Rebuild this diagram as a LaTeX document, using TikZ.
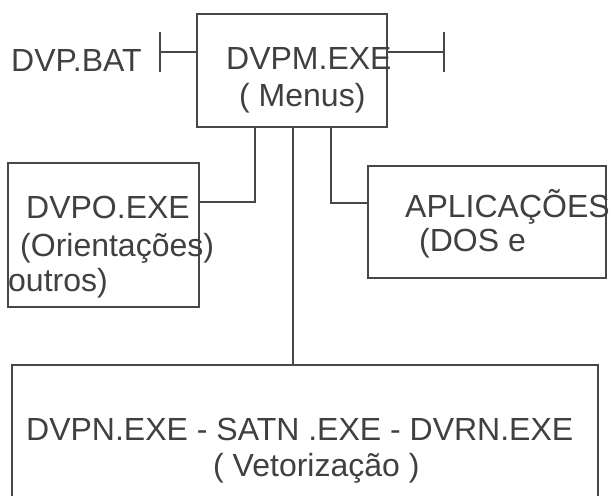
\documentclass[tikz,border=0pt]{standalone}
\usepackage{fontspec}
\setmainfont{Liberation Sans}
\usepackage{tikz}

\begin{document}
\begin{tikzpicture}[x=1pt,y=-1pt,
  prog/.style={draw=black!72, line width=2pt, inner sep=0pt},
  lbl/.style={anchor=base west, inner sep=0pt, text=black!75, font=\fontsize{32}{36}\selectfont},
  wire/.style={draw=black!72, line width=2pt}]
 \useasboundingbox (0,0) rectangle (610,495);
 \clip (0,0) rectangle (610,495);
% boxes
 \node[prog, minimum width=190pt, minimum height=113pt] (dvpm) at (292,70.5) {};%
 \node[prog, minimum width=191pt, minimum height=144pt] (dvpo) at (103.5,235) {};%
 \node[prog, minimum width=238pt, minimum height=112pt] (apl) at (487,222) {};%
 \node[prog, minimum width=586pt, minimum height=170pt] (dvpn) at (305,450) {};%
% texts
 \node[lbl] (bat) at (11,71) {DVP.BAT};%
 \node[lbl] (tdvpm) at (226,70) {DVPM.EXE};%
 \node[lbl] (tmenus) at (239,106) {( Menus)};%
 \node[lbl] (tdvpo) at (26,218) {DVPO.EXE};%
 \node[lbl] (torient) at (20,256) {(Orientações)};%
 \node[lbl] (toutros) at (8,291) {outros)};%
 \node[lbl] (tapl) at (405,217) {APLICAÇÕES};%
 \node[lbl] (tdos) at (419,251) {(DOS e};%
 \node[lbl] (tdvpn) at (26,440) {DVPN.EXE - SATN .EXE - DVRN.EXE};%
 \node[lbl] (tvet) at (213,476) {( Vetorização )};%
% bars
 \coordinate (batL) at (160,52);%
 \coordinate (batR) at (444,52);%
 \coordinate (jo) at (255,202);%
 \coordinate (ja) at (331,203);%
% edges
 \draw[wire] ([yshift=19.5pt]batL) -- ([yshift=-19.5pt]batL);
 \draw[wire] (batL) -- (batL -| dvpm.west);
 \draw[wire] ([yshift=19.5pt]batR) -- ([yshift=-19.5pt]batR);
 \draw[wire] (batR -| dvpm.east) -- (batR);

 \draw[wire] (jo |- dvpm.south) -- (jo) -- (jo -| dvpo.east);
 \draw[wire] (ja |- dvpm.south) -- (ja) -- (ja -| apl.west);
 \draw[wire] ([xshift=1pt]dvpm.south) -- ([xshift=1pt]dvpm.south |- dvpn.north);
\end{tikzpicture}
\end{document}
